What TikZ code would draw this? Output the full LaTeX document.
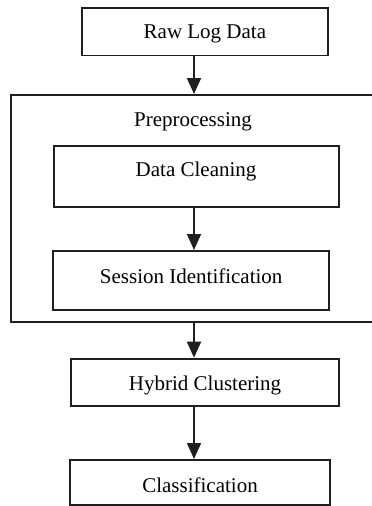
\documentclass[tikz,border=0pt]{standalone}
\usepackage{fontspec}
\setmainfont{Liberation Serif}
\usetikzlibrary{arrows.meta}
\begin{document}
\begin{tikzpicture}[x=1pt,y=-1pt,
  box/.style={draw=black!88, line width=1.8pt, inner xsep=0pt, inner ysep=0pt, anchor=north west, font=\fontsize{21}{25}\selectfont},
  arr/.style={line width=1.8pt, draw=black!88, -{Triangle[length=16pt,width=14pt]}},
  lbl/.style={anchor=base, inner sep=0pt, font=\fontsize{21}{25}\selectfont}]
\useasboundingbox (0,0) rectangle (372,506);
\coordinate (ax) at (194,0);
\node[box, minimum width=246pt, text height=31pt, text depth=16.5pt] (raw) at (81,7) {Raw Log Data};
\node[box, minimum width=380pt, minimum height=227pt] (pre) at (10,94) {};
\node[lbl] (prelbl) at (193,126) {Preprocessing};
\node[box, minimum width=285pt, text height=31pt, text depth=30pt] (clean) at (52.7,145) {Data Cleaning};
\node[box, minimum width=276pt, text height=32.7pt, text depth=26.6pt] (sess) at (52.3,250) {Session Identification};
\node[box, minimum width=268.3pt, text height=32.3pt, text depth=15.3pt] (hyb) at (70,357.7) {Hybrid Clustering};
\node[box, minimum width=259.7pt, text height=32.7pt, text depth=12.3pt] (cls) at (69.3,459) {Classification};
\draw[arr] (raw.south -| ax) -- (pre.north -| ax);
\draw[arr] (clean.south -| ax) -- (sess.north -| ax);
\draw[arr] (pre.south -| ax) -- (hyb.north -| ax);
\draw[arr] (hyb.south -| ax) -- (cls.north -| ax);
\end{tikzpicture}
\end{document}
